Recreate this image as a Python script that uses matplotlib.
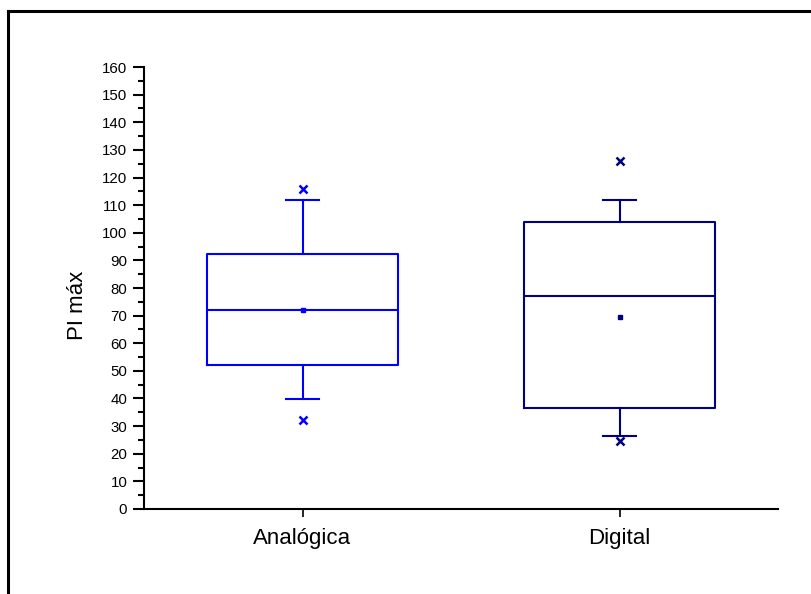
import matplotlib
matplotlib.use("Agg")
from matplotlib import pyplot as plt
from matplotlib.lines import Line2D
from matplotlib.ticker import MultipleLocator

plt.rcParams['font.family'] = ['Liberation Sans', 'DejaVu Sans']

# valores
grupos = ["Analógica", "Digital"]
q1 = [52.3, 36.4]
mediana = [72.0, 77.1]
q3 = [92.2, 103.8]
whisker_baixo = [39.9, 26.4]
whisker_alto = [111.7, 111.7]
media = [72.0, 69.4]
outliers = [[115.7, 32.3], [125.9, 24.5]]
cores = ["#0000ff", "#000080"]

fig = plt.figure(figsize=(8.12, 5.94), dpi=100)
ax = fig.add_axes([0.1773, 0.1431, 0.781, 0.7441])

stats = []
for i in range(len(grupos)):
    stats.append(dict(label=grupos[i], q1=q1[i], med=mediana[i], q3=q3[i],
                      whislo=whisker_baixo[i], whishi=whisker_alto[i],
                      mean=media[i], fliers=outliers[i]))

for i, s in enumerate(stats):
    c = cores[i]
    ax.bxp([s], positions=[i + 1], widths=0.6, capwidths=0.105, showmeans=True,
           boxprops=dict(color=c, linewidth=1.5),
           medianprops=dict(color=c, linewidth=1.5),
           whiskerprops=dict(color=c, linewidth=1.5),
           capprops=dict(color=c, linewidth=1.5),
           meanprops=dict(marker='s', markersize=3, markerfacecolor=c, markeredgecolor=c),
           flierprops=dict(marker='x', markersize=5.5, markeredgewidth=1.8,
                           markeredgecolor=c))

ax.set_xlim(0.5, 2.5)
ax.set_ylim(0, 160)
ax.set_xticks([1, 2])
ax.set_xticklabels(grupos, fontsize=16)
ax.yaxis.set_major_locator(MultipleLocator(10))
ax.yaxis.set_minor_locator(MultipleLocator(5))
ax.tick_params(axis='y', which='major', length=8, width=1.5, labelsize=10.8, pad=4)
ax.tick_params(axis='y', which='minor', length=4.5, width=1.5)
ax.tick_params(axis='x', length=6, width=1.2, pad=8)
ax.set_ylabel("PI máx", fontsize=16)
ax.yaxis.set_label_coords(-0.088, 0.46)

for lado in ['top', 'right']:
    ax.spines[lado].set_visible(False)
for lado in ['left', 'bottom']:
    ax.spines[lado].set_linewidth(1.5)

# moldura (só esquerda e topo aparecem)
fig.add_artist(Line2D([8.5 / 812, 8.5 / 812], [0, 1 - 11 / 594], color='black', linewidth=2.2))
fig.add_artist(Line2D([8.5 / 812, 1], [1 - 11 / 594, 1 - 11 / 594], color='black', linewidth=2.2))

fig.savefig("out.png", dpi=100)
